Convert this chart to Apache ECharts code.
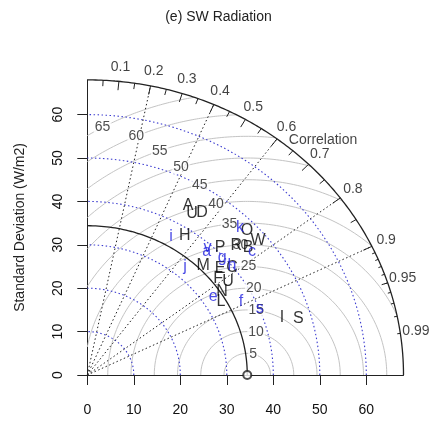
<!DOCTYPE html>
<html><head><meta charset="utf-8">
<script src="https://cdn.jsdelivr.net/npm/echarts@6/dist/echarts.min.js"></script>
<style>html,body{margin:0;padding:0;background:#fff}#c{width:437px;height:422px}</style>
</head><body><div id="c"></div>
<script>
// ---- data ----
const chartTitle = '(e) SW Radiation';
const yAxisName = 'Standard Deviation (W/m2)';
const refSD = 34.4;
const maxSD = 68;
const xTicks = [0, 10, 20, 30, 40, 50, 60];
const yTicks = [0, 10, 20, 30, 40, 50, 60];
const sdArcs = [10, 20, 30, 40, 50, 60];
const rmsArcs = [5, 10, 15, 20, 25, 30, 35, 40, 45, 50, 55, 60, 65];
const corrLines = [0.2, 0.4, 0.6, 0.8, 0.9];
const corrLabels = [0.1, 0.2, 0.3, 0.4, 0.5, 0.6, 0.7, 0.8, 0.9, 0.95, 0.99];
const bigTicks = [0.1, 0.2, 0.3, 0.4, 0.5, 0.6, 0.7, 0.8, 0.9];
const medTicks = [0.05, 0.15, 0.25, 0.35, 0.45, 0.55, 0.65, 0.75, 0.85, 0.95];
const smlTicks = [0.91, 0.92, 0.93, 0.94, 0.95, 0.96, 0.97, 0.98, 0.99];

const blackNames = ['A', 'U', 'D', 'H', 'P', 'R', 'B', 'O', 'W', 'M', 'E', 'C', 'F', 'U', 'N', 'L', 'I', 'S'];
const blackSD    = [44.6, 43.4, 44.9, 38.3, 40.9, 43.7, 45.3, 47.9, 48.0, 35.4, 37.7, 39.7, 35.8, 37.1, 34.8, 33.3, 43.9, 47.2];
const blackR     = [0.486, 0.519, 0.549, 0.548, 0.698, 0.733, 0.763, 0.717, 0.765, 0.704, 0.757, 0.784, 0.786, 0.816, 0.832, 0.863, 0.954, 0.961];

const blueNames = ['i', 'v', 'a', 'j', 'g', 'k', 'c', 'h', 'e', 'f', 's'];
const blueSD    = [36.7, 39.2, 38.4, 32.6, 39.6, 47.2, 45.4, 40.0, 32.5, 37.1, 40.1];
const blueR     = [0.490, 0.660, 0.669, 0.645, 0.732, 0.696, 0.780, 0.778, 0.833, 0.891, 0.925];

// ---- helpers ----
const FONT = 'Liberation Sans, Arial, sans-serif';
const CLEAR = 'rgba(0,0,0,0)';
function polar(sd, r) { return [sd * r, sd * Math.sqrt(Math.max(0, 1 - r * r))]; }
function lineSeries(pts, style, z) {
  return { type: 'line', data: pts, showSymbol: false, symbol: 'none', silent: true,
    lineStyle: style, z: z || 2, animation: false, clip: false };
}
function textSeries(data, label, z) {
  return { type: 'scatter', silent: true, animation: false, clip: false, z: z, symbolSize: 1,
    itemStyle: { color: CLEAR, borderColor: CLEAR }, data: data,
    labelLayout: { hideOverlap: false },
    label: Object.assign({ show: true, position: 'inside', formatter: p => p.name, fontFamily: FONT }, label) };
}
const series = [];
// sd arcs (blue dotted)
sdArcs.forEach(r => {
  const pts = [];
  for (let i = 0; i <= 120; i++) { const t = Math.PI / 2 * i / 120; pts.push([r * Math.cos(t), r * Math.sin(t)]); }
  series.push(lineSeries(pts, { color: '#3c3cd0', width: 1.1, type: [1.5, 2.5] }, 2));
});
// rms arcs (gray)
rmsArcs.forEach(g => {
  let c0 = (maxSD * maxSD - refSD * refSD - g * g) / (2 * refSD * g);
  c0 = Math.max(-1, Math.min(1, c0));
  const t0 = Math.acos(c0);
  const t1 = Math.acos(Math.max(-1, -refSD / g));
  const pts = [];
  const n = 150;
  for (let i = 0; i <= n; i++) { const t = t0 + (t1 - t0) * i / n; pts.push([refSD + g * Math.cos(t), g * Math.sin(t)]); }
  series.push(lineSeries(pts, { color: '#c4c4c4', width: 1 }, 1));
});
// correlation radial lines (black dotted)
corrLines.forEach(r => {
  series.push(lineSeries([[0, 0], polar(maxSD, r)], { color: '#222', width: 1, type: [1.5, 2.5] }, 2));
});
// outer arc and reference arc
[maxSD, refSD].forEach(r => {
  const pts = [];
  for (let i = 0; i <= 180; i++) { const t = Math.PI / 2 * i / 180; pts.push([r * Math.cos(t), r * Math.sin(t)]); }
  series.push(lineSeries(pts, { color: '#222', width: 1.3 }, 3));
});
// ticks on outer arc
[[bigTicks, 0.97], [medTicks, 0.98], [smlTicks, 0.99]].forEach(([arr, f]) => {
  arr.forEach(r => series.push(lineSeries([polar(maxSD, r), polar(maxSD * f, r)], { color: '#222', width: 1 }, 3)));
});
// correlation labels
series.push(textSeries(corrLabels.map(r => ({ value: polar(maxSD * 1.05, r), name: String(r) })),
  { color: '#111', fontSize: 14 }, 4));
series.push(textSeries([{ value: [50.7, 54.1], name: 'Correlation' }], { color: '#111', fontSize: 14 }, 4));
// rms labels
const rmsLabelData = [];
rmsArcs.forEach((g, i) => {
  const lp = Math.floor(45 + i * 25 / (rmsArcs.length - 1));
  const t = (lp - 1) * 0.03;
  const x = refSD + g * Math.cos(t), y = g * Math.sin(t);
  if (x > 0) rmsLabelData.push({ value: [x, y], name: String(g) });
});
series.push(textSeries(rmsLabelData, { color: '#222', fontSize: 14, backgroundColor: '#fff', padding: [0, 1] }, 5));
// reference point
series.push({ type: 'scatter', silent: true, animation: false, clip: false, z: 8, symbol: 'emptyCircle', symbolSize: 8,
  data: [[refSD, 0]], itemStyle: { color: '#222', borderColor: '#222', borderWidth: 1.2 } });
// model points
function pointSeries(names, sds, rs, color) {
  return textSeries(names.map((n, i) => ({ value: polar(sds[i], rs[i]), name: n })), { color: color, fontSize: 16 }, 9);
}
series.push(pointSeries(blackNames, blackSD, blackR, '#000'));
series.push(pointSeries(blueNames, blueSD, blueR, '#2020e0'));

const chart = echarts.init(document.getElementById('c'), null, { renderer: 'canvas' });
chart.setOption({
  animation: false,
  backgroundColor: '#fff',
  grid: { left: 87.3, top: 79.9, width: 316.2, height: 295.1, outerBoundsMode: 'none', containLabel: false },
  xAxis: { type: 'value', min: 0, max: maxSD, splitLine: { show: false },
    axisLine: { show: true, onZero: false, lineStyle: { color: '#222', width: 1 } },
    axisTick: { show: true, customValues: xTicks, length: 10, lineStyle: { color: '#222' } },
    axisLabel: { customValues: xTicks, fontSize: 14, color: '#111', margin: 28, fontFamily: FONT } },
  yAxis: { type: 'value', min: 0, max: maxSD, splitLine: { show: false },
    name: yAxisName, nameLocation: 'middle', nameRotate: 90, nameGap: 60,
    nameTextStyle: { fontSize: 14, color: '#222', fontFamily: FONT },
    axisLine: { show: true, onZero: false, lineStyle: { color: '#222', width: 1 } },
    axisTick: { show: true, customValues: yTicks, length: 10, lineStyle: { color: '#222' } },
    axisLabel: { customValues: yTicks, fontSize: 14, color: '#111', margin: 22, rotate: 90, fontFamily: FONT } },
  graphic: [
    { type: 'text', left: 'center', top: 10, style: { text: chartTitle, fontSize: 14, fill: '#222', fontFamily: FONT } }
  ],
  series: series
});
</script></body></html>
